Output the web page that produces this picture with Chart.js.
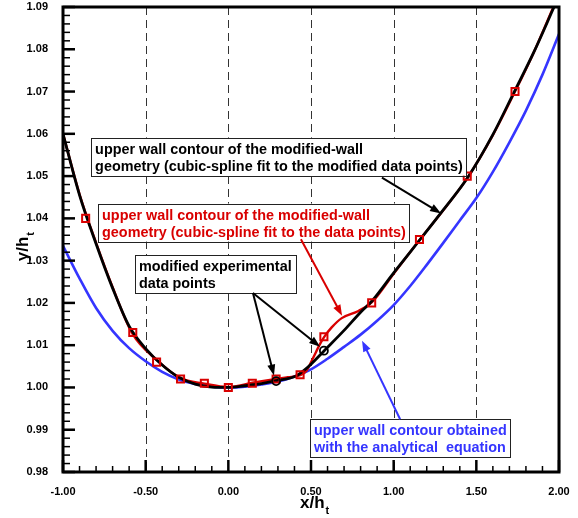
<!DOCTYPE html>
<html>
<head>
<meta charset="utf-8">
<script src="https://cdn.jsdelivr.net/npm/chart.js@4.4.1/dist/chart.umd.min.js"></script>
<style>
  body { margin: 0; background: #fff; }
  #wrap { width: 578px; height: 518px; }
</style>
</head>
<body>
<div id="wrap"><canvas id="chart" width="578" height="518"></canvas></div>
<script>
// curve: modified-wall spline (black)
const blackX = [-1.0, -0.9, -0.8, -0.7, -0.6, -0.5, -0.4, -0.3, -0.2, -0.1, 0.0, 0.1, 0.2, 0.29, 0.41, 0.45, 0.5, 0.58, 0.7, 0.8, 0.87, 1.0, 1.16, 1.3, 1.45, 1.6, 1.73, 1.85, 1.97];
const blackY = [1.0600, 1.0455, 1.0340, 1.0235, 1.0145, 1.0092, 1.0053, 1.0024, 1.0008, 1.0001, 1.0000, 1.0004, 1.0009, 1.0016, 1.0027, 1.0038, 1.0055, 1.0087, 1.0135, 1.0178, 1.0205, 1.0271, 1.0350, 1.0420, 1.0498, 1.0598, 1.0700, 1.0795, 1.0900];

// spline through original data points (red)
const redX = [-1.0, -0.9, -0.8, -0.7, -0.58, -0.43, -0.29, -0.145, 0.0, 0.145, 0.29, 0.36, 0.434, 0.474, 0.514, 0.555, 0.579, 0.625, 0.686, 0.787, 0.867, 1.0, 1.156, 1.3, 1.448, 1.6, 1.734, 1.85, 1.966];
const redY = [1.0600, 1.0457, 1.0342, 1.0237, 1.0127, 1.0064, 1.0022, 1.0009, 1.0001, 1.0011, 1.0020, 1.0024, 1.0029, 1.0040, 1.0071, 1.0103, 1.0119, 1.0142, 1.0164, 1.0181, 1.0201, 1.0269, 1.0349, 1.0419, 1.0497, 1.0597, 1.0700, 1.0795, 1.0900];

// analytical contour (blue)
const blueX = [-1.0, -0.9, -0.8, -0.7, -0.6, -0.5, -0.4, -0.3, -0.2, -0.1, 0.0, 0.1, 0.2, 0.3, 0.4, 0.5, 0.6, 0.7, 0.8, 0.9, 1.0, 1.1, 1.2, 1.3, 1.4, 1.5, 1.6, 1.7, 1.8, 1.9, 2.0];
const blueY = [1.0335, 1.0258, 1.0188, 1.0134, 1.0093, 1.0062, 1.0037, 1.0019, 1.0008, 1.0002, 1.0000, 1.0002, 1.0007, 1.0014, 1.0026, 1.0043, 1.0068, 1.0096, 1.0125, 1.0158, 1.0195, 1.0240, 1.0290, 1.0342, 1.0395, 1.0448, 1.0510, 1.0580, 1.0655, 1.0740, 1.0836];

// experimental data points (red squares) and modified points (black circles)
const pointX = [-0.863, -0.578, -0.434, -0.289, -0.145, 0.0, 0.145, 0.289, 0.434, 0.578, 0.867, 1.156, 1.445, 1.734];
const pointY = [1.040, 1.013, 1.006, 1.002, 1.001, 1.000, 1.001, 1.002, 1.003, 1.012, 1.020, 1.035, 1.050, 1.070];
const modX = [0.289, 0.578];
const modY = [1.0015, 1.0087];

const xTicks = [-1.0, -0.5, 0.0, 0.5, 1.0, 1.5, 2.0];
const yTicks = [0.98, 0.99, 1.00, 1.01, 1.02, 1.03, 1.04, 1.05, 1.06, 1.07, 1.08, 1.09];

const RED = '#d90000';
const BLUE = '#3535ff';
const FONT = '"Liberation Sans", Arial, sans-serif';

function pairs(xs, ys) {
    return xs.map(function (x, i) { return { x: x, y: ys[i] }; });
}

// callout boxes, in axis units
const notes = [
    { lines: ['upper wall contour of the modified-wall', 'geometry (cubic-spline fit to the modified data points)'],
      color: '#000', x0: -0.830, x1: 1.438, y0: 1.0591 },
    { lines: ['upper wall contour of the modified-wall', 'geometry (cubic-spline fit to the data points)'],
      color: RED, x0: -0.788, x1: 1.093, y0: 1.0435 },
    { lines: ['modified experimental', 'data points'],
      color: '#000', x0: -0.565, x1: 0.410, y0: 1.0313 },
    { lines: ['upper wall contour obtained', 'with the analytical  equation'],
      color: BLUE, x0: 0.494, x1: 1.704, y0: 0.99247 }
];
const arrows = [
    { color: '#000', from: [0.929, 1.04965], to: [1.287, 1.04118] },
    { color: RED, from: [0.439, 1.03506], to: [0.688, 1.01694] },
    { color: '#000', from: [0.149, 1.02235], to: [0.276, 1.00282] },
    { color: '#000', from: [0.149, 1.02235], to: [0.555, 1.00965] },
    { color: BLUE, from: [1.039, 0.99247], to: [0.809, 1.01106] }
];

function drawArrow(ctx, x1, y1, x2, y2, color) {
    var a = Math.atan2(y2 - y1, x2 - x1);
    var len = 11, hw = 4;
    ctx.strokeStyle = color;
    ctx.fillStyle = color;
    ctx.lineWidth = 2;
    ctx.beginPath();
    ctx.moveTo(x1, y1);
    ctx.lineTo(x2 - Math.cos(a) * len * 0.8, y2 - Math.sin(a) * len * 0.8);
    ctx.stroke();
    ctx.beginPath();
    ctx.moveTo(x2, y2);
    ctx.lineTo(x2 - Math.cos(a) * len - Math.sin(a) * hw, y2 - Math.sin(a) * len + Math.cos(a) * hw);
    ctx.lineTo(x2 - Math.cos(a) * len + Math.sin(a) * hw, y2 - Math.sin(a) * len - Math.cos(a) * hw);
    ctx.closePath();
    ctx.fill();
}

const deco = {
    id: 'deco',
    beforeDatasetsDraw(chart) {
        var ctx = chart.ctx, a = chart.chartArea, xs = chart.scales.x;
        ctx.save();
        ctx.strokeStyle = '#333';
        ctx.lineWidth = 1;
        ctx.setLineDash([8, 5]);
        xTicks.slice(1, -1).forEach(function (v) {
            var px = Math.round(xs.getPixelForValue(v)) + 0.5;
            ctx.beginPath();
            ctx.moveTo(px, a.top);
            ctx.lineTo(px, a.bottom);
            ctx.stroke();
        });
        ctx.restore();
    },
    afterDatasetsDraw(chart) {
        var ctx = chart.ctx, a = chart.chartArea, xs = chart.scales.x, ys = chart.scales.y;
        ctx.save();

        // frame
        ctx.strokeStyle = '#000';
        ctx.lineWidth = 3;
        ctx.strokeRect(a.left, a.top, a.right - a.left, a.bottom - a.top);

        // inward ticks
        var i, v, p, major;
        for (i = 0; i <= 55; i++) {
            v = 0.98 + i * 0.002;
            p = ys.getPixelForValue(v);
            major = i % 5 === 0;
            ctx.lineWidth = major ? 2.5 : 1.5;
            ctx.beginPath();
            ctx.moveTo(a.left, p);
            ctx.lineTo(a.left + (major ? 12 : 7), p);
            ctx.stroke();
        }
        for (i = 0; i <= 30; i++) {
            v = -1 + i * 0.1;
            p = xs.getPixelForValue(v);
            major = i % 5 === 0;
            ctx.lineWidth = major ? 2.5 : 1.5;
            ctx.beginPath();
            ctx.moveTo(p, a.bottom);
            ctx.lineTo(p, a.bottom - (major ? 12 : 6));
            ctx.stroke();
        }

        // callouts
        notes.forEach(function (n) {
            var l = xs.getPixelForValue(n.x0), r = xs.getPixelForValue(n.x1), t = ys.getPixelForValue(n.y0);
            var h = 38;
            ctx.fillStyle = '#fff';
            ctx.fillRect(l, t, r - l, h);
            ctx.strokeStyle = '#222';
            ctx.lineWidth = 1;
            ctx.strokeRect(Math.round(l) + 0.5, Math.round(t) + 0.5, Math.round(r - l), h);
            ctx.fillStyle = n.color;
            ctx.font = '700 14.4px ' + FONT;
            ctx.textBaseline = 'alphabetic';
            ctx.textAlign = 'left';
            n.lines.forEach(function (s, k) {
                ctx.fillText(s, l + 4, t + 16 + k * 17);
            });
        });
        arrows.forEach(function (ar) {
            drawArrow(ctx, xs.getPixelForValue(ar.from[0]), ys.getPixelForValue(ar.from[1]),
                xs.getPixelForValue(ar.to[0]), ys.getPixelForValue(ar.to[1]), ar.color);
        });

        // axis titles with subscript t
        ctx.fillStyle = '#000';
        ctx.font = '700 17px ' + FONT;
        ctx.textAlign = 'left';
        ctx.textBaseline = 'alphabetic';
        var w = ctx.measureText('x/h').width;
        var cx = (a.left + a.right) / 2 - 11;
        ctx.fillText('x/h', cx, 508);
        ctx.font = '700 11px ' + FONT;
        ctx.fillText('t', cx + w + 1, 514);

        ctx.translate(28, 245);
        ctx.rotate(-Math.PI / 2);
        ctx.font = '700 17px ' + FONT;
        w = ctx.measureText('y/h').width;
        ctx.fillText('y/h', -w / 2 - 4, 0);
        ctx.font = '700 11px ' + FONT;
        ctx.fillText('t', w / 2 - 3, 6);
        ctx.restore();
    }
};

new Chart(document.getElementById('chart'), {
    type: 'scatter',
    data: {
        datasets: [
            { data: pairs(modX, modY), showLine: false, pointStyle: 'circle', pointRadius: 4,
              borderColor: '#000', backgroundColor: 'rgba(0,0,0,0)', borderWidth: 1.8, order: 0 },
            { data: pairs(pointX, pointY), showLine: false, pointStyle: 'rect', pointRadius: 5,
              borderColor: RED, backgroundColor: 'rgba(0,0,0,0)', borderWidth: 2, order: 1 },
            { data: pairs(blackX, blackY), showLine: true, pointRadius: 0, borderColor: '#000',
              borderWidth: 2.8, cubicInterpolationMode: 'monotone', order: 2 },
            { data: pairs(redX, redY), showLine: true, pointRadius: 0, borderColor: RED,
              borderWidth: 2.4, cubicInterpolationMode: 'monotone', order: 3 },
            { data: pairs(blueX, blueY), showLine: true, pointRadius: 0, borderColor: BLUE,
              borderWidth: 2.6, cubicInterpolationMode: 'monotone', order: 4 }
        ]
    },
    options: {
        responsive: false,
        animation: false,
        layout: { padding: { top: 4, right: 19, left: 0, bottom: 0 } },
        plugins: { legend: { display: false }, tooltip: { enabled: false } },
        scales: {
            x: {
                type: 'linear', min: -1, max: 2,
                afterBuildTicks: function (s) { s.ticks = xTicks.map(function (v) { return { value: v }; }); },
                afterFit: function (s) { s.height = 46; s.paddingLeft = 0; s.paddingRight = 0; },
                grid: { display: false },
                border: { display: false },
                ticks: { padding: 5, color: '#000', font: { family: FONT, size: 11, weight: 'bold' },
                         maxRotation: 0, callback: function (v) { return Number(v).toFixed(2); } }
            },
            y: {
                type: 'linear', min: 0.98, max: 1.09,
                afterBuildTicks: function (s) { s.ticks = yTicks.map(function (v) { return { value: v }; }); },
                afterFit: function (s) { s.width = 63; s.paddingTop = 0; s.paddingBottom = 0; },
                grid: { display: false },
                border: { display: false },
                ticks: { padding: 7, color: '#000', font: { family: FONT, size: 11, weight: 'bold' },
                         callback: function (v) { return Number(v).toFixed(2); } }
            }
        }
    },
    plugins: [deco]
});
</script>
</body>
</html>
